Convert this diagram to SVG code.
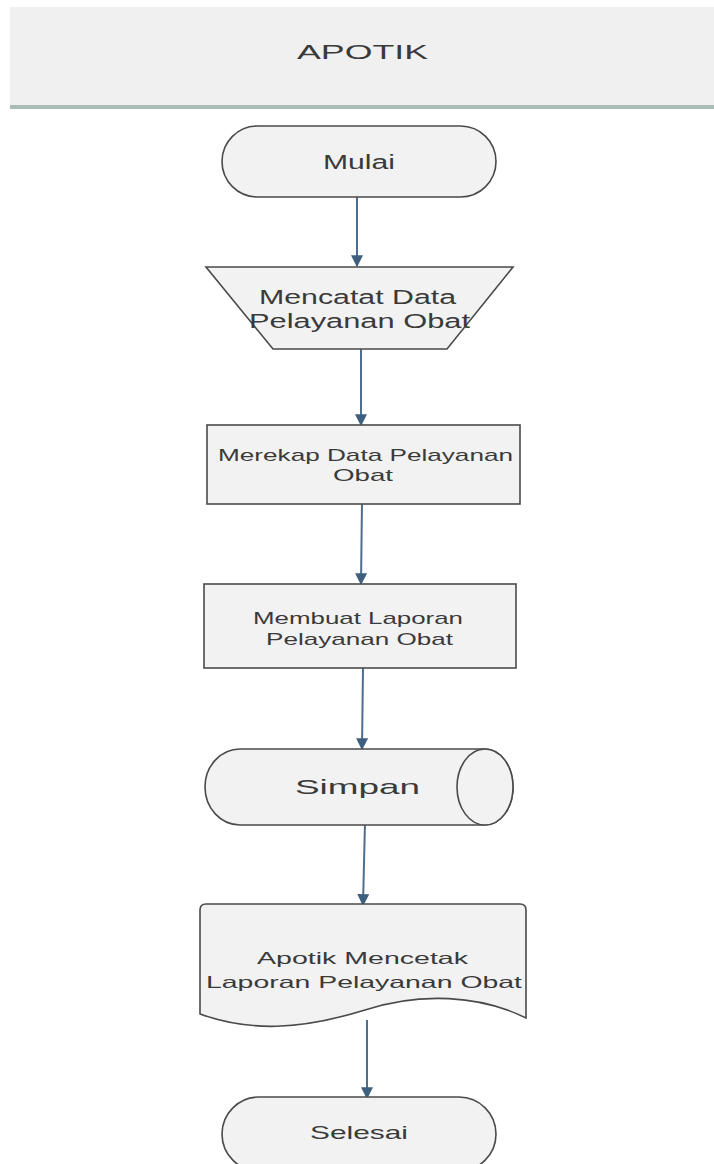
<svg xmlns="http://www.w3.org/2000/svg" width="714" height="1164" viewBox="0 0 714 1164">
<style>
.node{fill:#f2f2f2;stroke:#4a4a4a;stroke-width:1.6}
.t{font-family:"Liberation Sans",Arial,sans-serif;fill:#3a3a3a;text-anchor:middle}
.edge{stroke:#4f6e8e;stroke-width:2;fill:none;marker-end:url(#ah)}
</style>
<defs>
<marker id="ah" viewBox="0 0 10 10" refX="9" refY="5" markerWidth="6" markerHeight="6" markerUnits="strokeWidth" orient="auto">
<path d="M0,0 L10,5 L0,10 Z" fill="#3f5f7f"/>
</marker>
</defs>
<rect width="714" height="1164" fill="#ffffff"/>
<g id="header">
<rect x="10" y="7" width="704" height="99" fill="#f0f0f0"/>
<rect x="10" y="105" width="704" height="4" fill="#a9bdb5"/>
<text class="t" x="362.5" y="59" font-size="21" fill="#1e1e1e" textLength="131" lengthAdjust="spacingAndGlyphs">APOTIK</text>
</g>
<g id="connectors">
<path class="edge" d="M357,197 L357,266"/>
<path class="edge" d="M361,349 L361,425"/>
<path class="edge" d="M362,502 L361,584"/>
<path class="edge" d="M363,668 L362,749"/>
<path class="edge" d="M365,822 L363,905"/>
<path class="edge" d="M367,1020 L367,1098"/>
</g>
<g id="mulai">
<rect class="node" x="222" y="126" width="274" height="71" rx="35.5"/>
<text class="t" x="359" y="169" font-size="20" fill="#444" textLength="72" lengthAdjust="spacingAndGlyphs">Mulai</text>
</g>
<g id="mencatat">
<path class="node" d="M206,267 L513,267 L447,349 L273,349 Z" stroke="#777" stroke-width="1.2"/>
<text class="t" x="357.5" y="304" font-size="20" fill="#5a5a5a" textLength="197" lengthAdjust="spacingAndGlyphs">Mencatat Data</text>
<text class="t" x="359.5" y="328" font-size="20" fill="#5a5a5a" textLength="221" lengthAdjust="spacingAndGlyphs">Pelayanan Obat</text>
</g>
<g id="merekap">
<rect class="node" x="207" y="425" width="313" height="79"/>
<text class="t" x="365.5" y="461" font-size="17" textLength="295" lengthAdjust="spacingAndGlyphs">Merekap Data Pelayanan</text>
<text class="t" x="363" y="481" font-size="17" textLength="60" lengthAdjust="spacingAndGlyphs">Obat</text>
</g>
<g id="membuat">
<rect class="node" x="204" y="584" width="312" height="84"/>
<text class="t" x="358" y="624" font-size="17" textLength="210" lengthAdjust="spacingAndGlyphs">Membuat Laporan</text>
<text class="t" x="359.5" y="645" font-size="17" textLength="187" lengthAdjust="spacingAndGlyphs">Pelayanan Obat</text>
</g>
<g id="simpan">
<path class="node" d="M240,749 L485,749 A28,38 0 0 1 485,825 L240,825 A35,38 0 0 1 240,749 Z"/>
<ellipse class="node" cx="485" cy="787" rx="28" ry="38"/>
<text class="t" x="357.5" y="794" font-size="21" textLength="125" lengthAdjust="spacingAndGlyphs">Simpan</text>
</g>
<g id="mencetak">
<path class="node" d="M206,904 L520,904 Q526,904 526,910 L526,1018 C480,995 420,992 365,1010 C300,1030 250,1032 200,1014 L200,910 Q200,904 206,904 Z"/>
<text class="t" x="362.5" y="964" font-size="16.5" fill="#5a5a5a" textLength="211" lengthAdjust="spacingAndGlyphs">Apotik Mencetak</text>
<text class="t" x="364" y="988" font-size="16.5" fill="#5a5a5a" textLength="316" lengthAdjust="spacingAndGlyphs">Laporan Pelayanan Obat</text>
</g>
<g id="selesai">
<rect class="node" x="222" y="1097" width="274" height="74" rx="37"/>
<text class="t" x="359" y="1139" font-size="19" fill="#444" textLength="98" lengthAdjust="spacingAndGlyphs">Selesai</text>
</g>
</svg>
